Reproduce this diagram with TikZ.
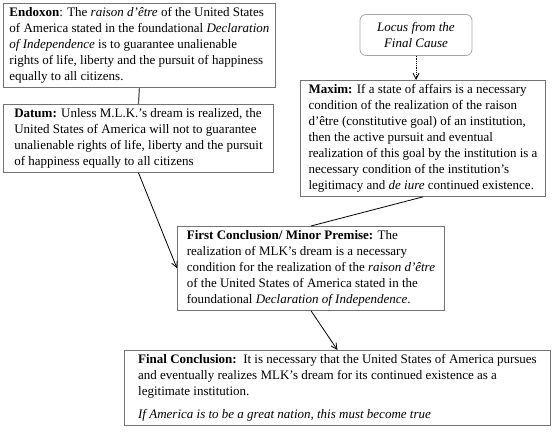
\documentclass[tikz,border=0pt]{standalone}
\usepackage{fontspec}
\setmainfont{Liberation Serif}
\usetikzlibrary{arrows.meta}
\begin{document}
\begin{tikzpicture}[x=1pt,y=-1pt,
  argbox/.style={draw=black!55,line width=0.9pt,anchor=north west,align=left,
    inner xsep=6pt,inner ysep=4pt,font=\fontsize{13}{16}\selectfont},
  causebox/.style={draw=black!35,line width=0.8pt,rounded corners=6pt,align=center,
    minimum width=112pt,minimum height=41pt,font=\fontsize{13}{16}\selectfont\itshape},
  link/.style={line width=0.8pt},
  arr/.style={line width=0.8pt,-{Straight Barb[length=6pt,width=6pt]}}]
\useasboundingbox (0,0) rectangle (553,433);
\node[argbox,minimum width=270pt] (endoxon) at (3,3) {\textbf{Endoxon}: The \textit{raison d'être} of the United States\\
of America stated in the foundational \textit{Declaration}\\
\textit{of Independence} is to guarantee unalienable\\
rights of life, liberty and the pursuit of happiness\\
equally to all citizens.};
\node[argbox,minimum width=270pt] (datum) at (3,104) {\textbf{Datum:} Unless M.L.K.'s dream is realized, the\\
United States of America will not to guarantee\\
unalienable rights of life, liberty and the pursuit\\
of happiness equally to all citizens};
\node[causebox] (locus) at (416,35) {Locus from the\\Final Cause};
\node[argbox,minimum width=245pt] (maxim) at (300,80) {\textbf{Maxim:} If a state of affairs is a necessary\\
condition of the realization of the raison\\
d'être (constitutive goal) of an institution,\\
then the active pursuit and eventual\\
realization of this goal by the institution is a\\
necessary condition of the institution's\\
legitimacy and \textit{de iure} continued existence.};
\node[argbox,minimum width=267pt] (first) at (177,226) {\textbf{First Conclusion/ Minor Premise:} The\\
realization of MLK's dream is a necessary\\
condition for the realization of the \textit{raison d'être}\\
of the United States of America stated in the\\
foundational \textit{Declaration of Independence}.};
\node[argbox,minimum width=426pt] (final) at (124,350) {\textbf{Final Conclusion:}\, It is necessary that the United States of America pursues\\
and eventually realizes MLK's dream for its continued existence as a\\
legitimate institution.\\[7pt]
\textit{If America is to be a great nation, this must become true}};
\draw[link,black!65,line width=1.2pt] (endoxon.south) -- (datum.north);
\draw[arr,densely dotted] (locus.south) -- (locus.south |- maxim.north);
\draw[link] (maxim.south) -- (first.north);
\draw[arr] (datum.south) -- (first.west);
\draw[arr] (first.south) -- (final.north);
\end{tikzpicture}
\end{document}
